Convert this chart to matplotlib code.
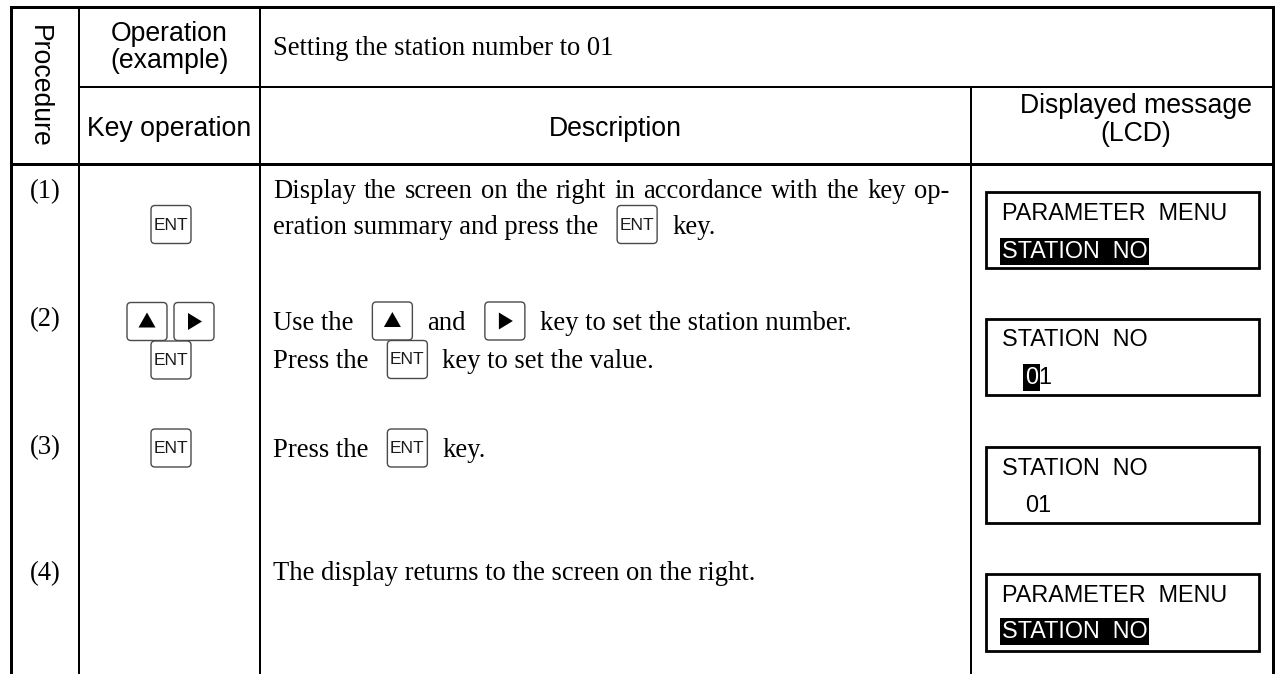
import re

import matplotlib

matplotlib.use("Agg")
import matplotlib.pyplot as plt
from matplotlib import font_manager
from matplotlib.patches import FancyBboxPatch, Polygon, Rectangle

# ---- content ----
HEAD_PROC = "Procedure"
HEAD_OP = ["Operation", "(example)"]
HEAD_KEY = "Key operation"
HEAD_DESC = "Description"
HEAD_LCD = ["Displayed message", "(LCD)"]
OPERATION = "Setting the station number to 01"

STEPS = ["(1)", "(2)", "(3)", "(4)"]

# keys drawn in the "Key operation" column for each step
KEY_COLUMN = [["ENT"], ["UP", "RIGHT", "ENT"], ["ENT"], []]

# {KEY} marks an inline key picture
DESCRIPTIONS = [
    ["Display the screen on the right in accordance with the key op-",
     "eration summary and press the {ENT} key."],
    ["Use the {UP} and {RIGHT} key to set the station number.",
     "Press the {ENT} key to set the value."],
    ["Press the {ENT} key."],
    ["The display returns to the screen on the right."],
]

# [..] marks inverse video on the LCD, leading spaces = character cells
LCD_LINES = [
    ["PARAMETER  MENU", "[STATION  NO]"],
    ["STATION  NO", "  [0]1"],
    ["STATION  NO", "  01"],
    ["PARAMETER  MENU", "[STATION  NO]"],
]

# ---- layout (pixels, y down) ----
W, H = 1277, 674
X_LEFT, X_C1, X_C2, X_C3, X_RIGHT = 11, 79, 260, 971, 1273
Y_TOP, Y_H1, Y_H2 = 7, 87, 164

ROW_BASE = [[198, 233.5], [330, 368.5], [457], [580]]
ROW_JUSTIFY = [[949, None], [None, None], [None], [None]]
STEP_BASE = [198, 326, 454, 580]
COL_KEYS_POS = [
    [(151, 224.5)],
    [(127, 321.5), (174, 321.5), (151, 360)],
    [(151, 448)],
    [],
]
LCD_BOX_Y = [(192, 268), (319, 395), (447, 523), (574, 651)]
LCD_BASE = [(220, 258), (346, 384), (475, 512), (602, 638)]
LCD_X0, LCD_X1, LCD_TX = 986, 1259, 1002

SERIF = "Liberation Serif"
SANS = "Liberation Sans"
FS = 19.2
FS_LCD = 16.8
KEY_W, KEY_H = 40, 38

try:
    font_manager.findfont("Liberation Sans Narrow", fallback_to_default=False)
    KEY_FONT, KEY_FS, KEY_WT = "Liberation Sans Narrow", 14.5, "normal"
except Exception:
    KEY_FONT, KEY_FS, KEY_WT = SANS, 12.5, "medium"

fig = plt.figure(figsize=(W / 100, H / 100), dpi=100)
ax = fig.add_axes([0, 0, 1, 1])
ax.set_xlim(0, W)
ax.set_ylim(H, 0)
ax.axis("off")
renderer = fig.canvas.get_renderer()


def line(x0, y0, x1, y1, px):
    ax.plot([x0, x1], [y0, y1], color="black", lw=px * 0.72,
            solid_capstyle="projecting")


def draw_key(x0, yc, kind):
    y0 = yc - KEY_H / 2
    ax.add_patch(FancyBboxPatch((x0, y0), KEY_W, KEY_H,
                                boxstyle="round,pad=0,rounding_size=4",
                                fc="white", ec="#4a4a4a", lw=1.0, zorder=3))
    cx = x0 + KEY_W / 2
    if kind == "ENT":
        ax.text(cx, yc + 0.5, "ENT", family=KEY_FONT, size=KEY_FS, weight=KEY_WT,
                ha="center", va="center", color="#1a1a1a", zorder=4)
    elif kind == "UP":
        ax.add_patch(Polygon([(cx - 8.5, yc + 6), (cx + 8.5, yc + 6), (cx, yc - 9)],
                             closed=True, fc="black", ec="none", zorder=4))
    elif kind == "RIGHT":
        ax.add_patch(Polygon([(cx - 6, yc - 8.5), (cx - 6, yc + 8.5), (cx + 8, yc)],
                             closed=True, fc="black", ec="none", zorder=4))


def justified(x, base, s, right):
    words = s.split(" ")
    texts = [ax.text(0, base, w, family=SERIF, size=FS, ha="left", va="baseline")
             for w in words]
    widths = [t.get_window_extent(renderer).width for t in texts]
    gap = (right - x - sum(widths)) / (len(words) - 1)
    for t, w in zip(texts, widths):
        t.set_x(x)
        x += w + gap


def rich_line(x, base, s, right=None):
    if right is not None:
        justified(x, base, s, right)
        return
    for part in re.split(r"(\{[A-Z]+\})", s):
        part = part.strip()
        if not part:
            continue
        if part.startswith("{"):
            x += 19
            draw_key(x, base - 9, part[1:-1])
            x += KEY_W + 15
        else:
            t = ax.text(x, base, part, family=SERIF, size=FS, ha="left", va="baseline")
            x += t.get_window_extent(renderer).width


def lcd_line(x, base, s, cell=11.5):
    n = len(s) - len(s.lstrip(" "))
    x += n * cell
    for part in re.split(r"(\[[^\]]*\])", s.lstrip(" ")):
        if not part:
            continue
        inv = part.startswith("[")
        txt = part.strip("[]")
        t = ax.text(x, base, txt, family=SANS, size=FS_LCD, ha="left", va="baseline",
                    color="white" if inv else "black")
        w = t.get_window_extent(renderer).width
        if inv:
            t.set_bbox(dict(boxstyle="square,pad=0.08", fc="black", ec="none"))
        x += w


# ---- grid ----
line(X_LEFT, Y_TOP, X_RIGHT, Y_TOP, 3)
line(X_LEFT, Y_TOP, X_LEFT, H + 5, 3)
line(X_RIGHT, Y_TOP, X_RIGHT, H + 5, 3)
line(X_C1, Y_TOP, X_C1, H + 5, 2)
line(X_C2, Y_TOP, X_C2, H + 5, 2)
line(X_C3, Y_H1, X_C3, H + 5, 2)
line(X_C1, Y_H1, X_RIGHT, Y_H1, 2)
line(X_LEFT, Y_H2, X_RIGHT, Y_H2, 3)

# ---- headers ----
ax.text(39, 86, HEAD_PROC, family=SANS, size=FS, rotation=270,
        ha="center", va="center")
ax.text((X_C1 + X_C2) / 2, 41, HEAD_OP[0], family=SANS, size=FS, ha="center", va="baseline")
ax.text((X_C1 + X_C2) / 2, 68, HEAD_OP[1], family=SANS, size=FS, ha="center", va="baseline")
ax.text((X_C1 + X_C2) / 2, 136, HEAD_KEY, family=SANS, size=FS, ha="center", va="baseline")
ax.text(273, 55, OPERATION, family=SERIF, size=FS, ha="left", va="baseline")
ax.text((X_C2 + X_C3) / 2, 136, HEAD_DESC, family=SANS, size=FS, ha="center", va="baseline")
ax.text(1136, 113, HEAD_LCD[0], family=SANS, size=FS, ha="center", va="baseline")
ax.text(1136, 141, HEAD_LCD[1], family=SANS, size=FS, ha="center", va="baseline")

# ---- body ----
for i, step in enumerate(STEPS):
    ax.text(45, STEP_BASE[i], step, family=SERIF, size=FS, ha="center", va="baseline")
    for kind, (kx, kyc) in zip(KEY_COLUMN[i], COL_KEYS_POS[i]):
        draw_key(kx, kyc, kind)
    for s, base, right in zip(DESCRIPTIONS[i], ROW_BASE[i], ROW_JUSTIFY[i]):
        rich_line(273, base, s, right)
    y0, y1 = LCD_BOX_Y[i]
    ax.add_patch(Rectangle((LCD_X0, y0), LCD_X1 - LCD_X0, y1 - y0,
                           fc="none", ec="black", lw=2.0))
    for s, base in zip(LCD_LINES[i], LCD_BASE[i]):
        lcd_line(LCD_TX, base, s)

fig.savefig("out.png", dpi=100)
